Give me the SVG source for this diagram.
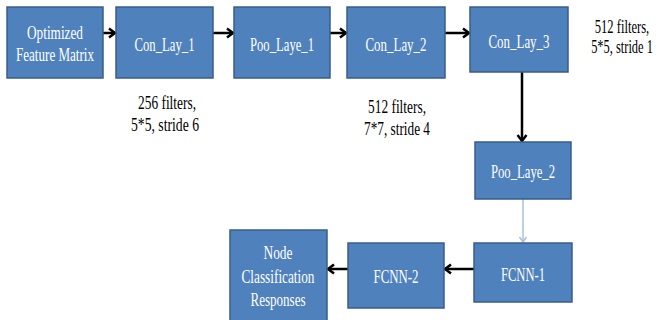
<svg xmlns="http://www.w3.org/2000/svg" width="659" height="320" viewBox="0 0 659 320">
<style>
.box{fill:#4f81bd;stroke:#385d8a;stroke-width:1.5}
.t{font-family:"Liberation Serif","Times New Roman",serif;font-size:18px;fill:#ffffff;text-anchor:middle}
.l{font-family:"Liberation Serif","Times New Roman",serif;font-size:18px;fill:#000000;text-anchor:middle}
.a{stroke:#000;stroke-width:2.5;fill:none}
.la{stroke:#a9c0da;stroke-width:1.5;fill:none}
</style>
<defs>
<marker id="ah" markerUnits="userSpaceOnUse" markerWidth="12" markerHeight="12" refX="9" refY="6" orient="auto">
<path d="M3,1.5 L9,6 L3,10.5" fill="none" stroke="#000" stroke-width="2.5"/>
</marker>
<marker id="lah" markerUnits="userSpaceOnUse" markerWidth="10" markerHeight="10" refX="8" refY="5" orient="auto">
<path d="M3,1.5 L8,5 L3,8.5" fill="none" stroke="#a9c0da" stroke-width="1.5"/>
</marker>
</defs>
<g id="connectors">
<line class="a" x1="103" y1="33" x2="115" y2="33" marker-end="url(#ah)"/>
<line class="a" x1="213" y1="33" x2="233" y2="33" marker-end="url(#ah)"/>
<line class="a" x1="330" y1="33" x2="346" y2="33" marker-end="url(#ah)"/>
<line class="a" x1="445" y1="33" x2="469" y2="33" marker-end="url(#ah)"/>
<line class="a" x1="522" y1="72" x2="522" y2="141" marker-end="url(#ah)"/>
<line class="la" x1="523" y1="199" x2="523" y2="242" marker-end="url(#lah)"/>
<line class="a" x1="474" y1="269" x2="445" y2="269" marker-end="url(#ah)"/>
<line class="a" x1="348" y1="269" x2="328" y2="269" marker-end="url(#ah)"/>
</g>
<g id="n1"><rect class="box" x="7" y="7" width="96" height="71"/>
<text class="t" x="55" y="39" textLength="56" lengthAdjust="spacingAndGlyphs">Optimized</text>
<text class="t" x="55" y="61" textLength="78" lengthAdjust="spacingAndGlyphs">Feature Matrix</text></g>
<g id="n2"><rect class="box" x="116" y="7" width="97" height="71"/>
<text class="t" x="164.5" y="51" textLength="60" lengthAdjust="spacingAndGlyphs">Con_Lay_1</text></g>
<g id="n3"><rect class="box" x="234" y="7" width="96" height="71"/>
<text class="t" x="282" y="51" textLength="64" lengthAdjust="spacingAndGlyphs">Poo_Laye_1</text></g>
<g id="n4"><rect class="box" x="347" y="7" width="98" height="71"/>
<text class="t" x="396" y="51" textLength="61" lengthAdjust="spacingAndGlyphs">Con_Lay_2</text></g>
<g id="n5"><rect class="box" x="470" y="7" width="98" height="65"/>
<text class="t" x="519" y="48" textLength="61" lengthAdjust="spacingAndGlyphs">Con_Lay_3</text></g>
<g id="n6"><rect class="box" x="475" y="142" width="96" height="57"/>
<text class="t" x="523" y="178" textLength="64" lengthAdjust="spacingAndGlyphs">Poo_Laye_2</text></g>
<g id="n7"><rect class="box" x="474" y="243" width="98" height="59"/>
<text class="t" x="523" y="281" textLength="44" lengthAdjust="spacingAndGlyphs">FCNN-1</text></g>
<g id="n8"><rect class="box" x="348" y="243" width="96" height="65"/>
<text class="t" x="396" y="283" textLength="45" lengthAdjust="spacingAndGlyphs">FCNN-2</text></g>
<g id="n9"><rect class="box" x="230" y="230" width="97" height="95"/>
<text class="t" x="278" y="259" textLength="29" lengthAdjust="spacingAndGlyphs">Node</text>
<text class="t" x="278" y="283" textLength="73" lengthAdjust="spacingAndGlyphs">Classification</text>
<text class="t" x="278" y="306" textLength="55" lengthAdjust="spacingAndGlyphs">Responses</text></g>
<g id="labels">
<text class="l" x="167" y="109" textLength="58" lengthAdjust="spacingAndGlyphs">256 filters,</text>
<text class="l" x="165" y="131" textLength="68" lengthAdjust="spacingAndGlyphs">5*5, stride 6</text>
<text class="l" x="397" y="113" textLength="58" lengthAdjust="spacingAndGlyphs">512 filters,</text>
<text class="l" x="397" y="135" textLength="66" lengthAdjust="spacingAndGlyphs">7*7, stride 4</text>
<text class="l" transform="translate(622,33) scale(0.7,1)" x="0" y="0">512 filters,</text>
<text class="l" transform="translate(622,53) scale(0.69,1)" x="0" y="0">5*5, stride 1</text>
</g>
</svg>
